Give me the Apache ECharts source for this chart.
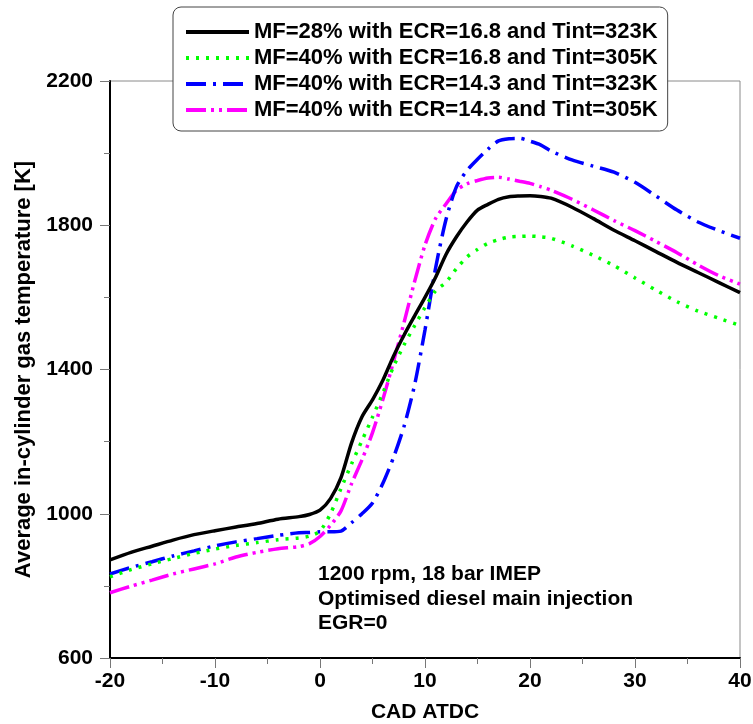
<!DOCTYPE html>
<html>
<head>
<meta charset="utf-8">
<script src="https://cdn.jsdelivr.net/npm/echarts@6/dist/echarts.min.js"></script>
<style>html,body{margin:0;padding:0;background:#fff;}#c{width:753px;height:724px;}</style>
</head>
<body>
<div id="c"></div>
<script>
const cad = [-20,-18,-16,-14,-12,-10,-8,-6,-4,-2,-1,0,1,2,3,4,5,6,7,8,9,10,11,12,13,14,15,16,17,18,19,20,21,22,24,26,28,30,32,34,36,38,40];
const mf28_ecr168_t323 = [872,893,910,927,942,953,963,973,985,992,998,1010,1042,1100,1196,1269,1316,1371,1437,1495,1548,1600,1655,1719,1768,1809,1842,1858,1872,1879,1881,1882,1880,1875,1850,1819,1786,1757,1727,1697,1669,1641,1613];
const mf40_ecr168_t305 = [825,845,861,876,890,902,912,920,928,933,938,952,1000,1070,1138,1203,1268,1336,1408,1468,1521,1572,1618,1642,1680,1712,1733,1750,1760,1767,1769,1770,1768,1764,1743,1717,1688,1654,1620,1588,1562,1542,1522];
const mf40_ecr143_t323 = [833,851,867,883,897,911,922,931,940,947,948,950,950,952,975,1000,1030,1085,1156,1242,1356,1510,1680,1816,1907,1952,1983,2011,2034,2040,2041,2033,2023,2006,1981,1964,1947,1919,1881,1842,1809,1785,1764];
const mf40_ecr143_t305 = [781,799,816,833,847,861,880,893,903,909,917,937,968,1008,1083,1150,1225,1318,1422,1530,1643,1745,1818,1859,1897,1915,1924,1931,1933,1928,1922,1916,1907,1897,1872,1843,1813,1785,1755,1724,1690,1660,1637];
const seriesNames = [
  'MF=28% with ECR=16.8 and Tint=323K',
  'MF=40% with ECR=16.8 and Tint=305K',
  'MF=40% with ECR=14.3 and Tint=323K',
  'MF=40% with ECR=14.3 and Tint=305K'
];
const xTicks = [-20,-10,0,10,20,30,40];
const yTicks = [600,1000,1400,1800,2200];
const noteLines = ['1200 rpm, 18 bar IMEP','Optimised diesel main injection','EGR=0'];

const FONT = "'Liberation Sans', Arial, sans-serif";
const pairs = v => cad.map((x,i)=>[x,v[i]]);
const styles = [
  {color:'#000000', type:'solid', width:3.5},
  {color:'#00ff00', type:[3,7], width:3.5},
  {color:'#0000ff', type:[20,7,3,7], width:3.5},
  {color:'#ff00ff', type:[20,5,3,5,3,5], width:3.5}
];
const allData = [mf28_ecr168_t323, mf40_ecr168_t305, mf40_ecr143_t323, mf40_ecr143_t305];

const chart = echarts.init(document.getElementById('c'), null, {renderer:'canvas'});
chart.setOption({
  animation:false,
  backgroundColor:'#ffffff',
  grid:{left:110, right:13, top:81, bottom:66, show:true, borderColor:'#8a8a8a', borderWidth:1, backgroundColor:'transparent', containLabel:false, outerBoundsMode:'none'},
  legend:{
    orient:'vertical', left:173, top:7,
    data:seriesNames,
    itemWidth:63, itemHeight:14, itemGap:4,
    padding:[14,10,10,11],
    backgroundColor:'#ffffff', borderColor:'#444', borderWidth:1, borderRadius:8,
    itemStyle:{opacity:0},
    lineStyle:{width:4, opacity:1},
    textStyle:{fontFamily:FONT, fontWeight:'bold', fontSize:22, color:'#000'},
    selectedMode:false
  },
  xAxis:{
    type:'value', min:-20, max:40, interval:10,
    name:'CAD ATDC', nameLocation:'middle', nameGap:44,
    nameTextStyle:{fontFamily:FONT, fontWeight:'bold', fontSize:21, color:'#000'},
    axisLine:{show:true, onZero:false, lineStyle:{color:'#000', width:2}},
    axisTick:{show:true, inside:false, length:10, lineStyle:{color:'#777', width:1}},
    minorTick:{show:true, splitNumber:2, length:6, lineStyle:{color:'#777', width:1}},
    axisLabel:{fontFamily:FONT, fontWeight:'bold', fontSize:21, color:'#000', margin:13,
      formatter:v=> xTicks.includes(v)? String(v):''},
    splitLine:{show:false}
  },
  yAxis:{
    type:'value', min:600, max:2200, interval:400,
    name:'Average in-cylinder gas temperature [K]', nameLocation:'middle', nameGap:75,
    nameTextStyle:{fontFamily:FONT, fontWeight:'bold', fontSize:22, color:'#000'},
    axisLine:{show:true, onZero:false, lineStyle:{color:'#000', width:2}},
    axisTick:{show:true, inside:false, length:10, lineStyle:{color:'#777', width:1}},
    minorTick:{show:true, splitNumber:2, length:6, lineStyle:{color:'#777', width:1}},
    axisLabel:{fontFamily:FONT, fontWeight:'bold', fontSize:21, color:'#000', margin:17,
      formatter:v=> yTicks.includes(v)? String(v):''},
    splitLine:{show:false}
  },
  graphic:[{
    type:'text', left:318, top:562, z:10,
    style:{text:noteLines.join('\n'), font:"bold 21px 'Liberation Sans', Arial, sans-serif", fill:'#000', lineHeight:24.5}
  }],
  series: allData.map((d,i)=>({
    name:seriesNames[i], type:'line', data:pairs(d),
    symbol:'none', smooth:0.25,
    lineStyle:{color:styles[i].color, type:styles[i].type, width:styles[i].width, cap:'butt'},
    itemStyle:{color:styles[i].color},
    z: 4-i
  }))
});
</script>
</body>
</html>
